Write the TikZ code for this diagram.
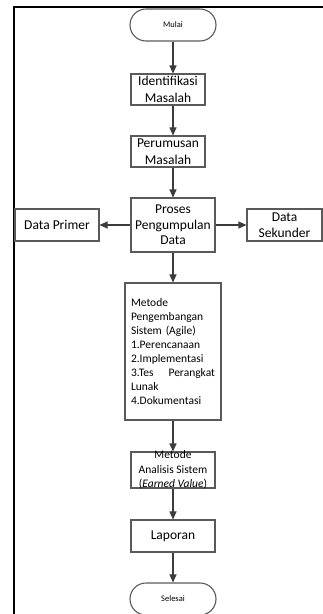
\documentclass[tikz,border=0pt]{standalone}
\usepackage{fontspec}
\setmainfont{Carlito}
\usetikzlibrary{arrows.meta}
\definecolor{boxline}{HTML}{5A5A5A}
\definecolor{arrline}{HTML}{3C3C3C}
\tikzset{
  proc/.style={draw=boxline, line width=1.1pt, inner sep=0pt, align=center, font=\fontsize{13.5}{16.5}\selectfont},
  term/.style={proc, rounded corners=16pt, font=\fontsize{8.5}{10}\selectfont},
  flow/.style={draw=arrline, line width=1.1pt, -{Triangle[length=8pt,width=7pt]}},
  frameline/.style={line width=2pt, black}
}
\begin{document}
\begin{tikzpicture}[x=1pt,y=-1pt]
\useasboundingbox (0,0) rectangle (323,614);
\fill[white] (0,0) rectangle (323,614);
\draw[frameline] (13.5,614) -- (13.5,6.5) -- (323,6.5);

\node[term, minimum width=86pt, minimum height=32pt] (mulai) at (173,25) {Mulai};
\node[proc, minimum width=74pt, minimum height=31pt] (ident) at (168,89.5) {Identifikasi\\Masalah};
\node[proc, minimum width=74pt, minimum height=31pt] (perum) at (168,151.5) {Perumusan\\Masalah};
\node[proc, minimum width=84pt, minimum height=54pt, font=\fontsize{13.5}{15.5}\selectfont] (proses) at (173,225) {Proses\\Pengumpulan\\Data};
\node[proc, minimum width=84pt, minimum height=32pt] (primer) at (57,225) {Data Primer};
\node[proc, minimum width=75pt, minimum height=32pt, font=\fontsize{13.5}{15.5}\selectfont] (sekunder) at (284.5,225) {Data\\Sekunder};
\node[proc, minimum width=96pt, minimum height=137pt, text width=84pt, align=left, font=\fontsize{11.5}{14}\selectfont] (metode) at (173,351.5)
  {Metode\\Pengembangan\\Sistem (Agile)\\1.Perencanaan\\2.Implementasi\\3.Tes\hfill Perangkat\\Lunak\\4.Dokumentasi};
\node[proc, minimum width=84pt, minimum height=36pt] (analisis) at (173,470) {};
\node[font=\fontsize{11.5}{14.5}\selectfont, align=center, inner sep=0pt] (analisistext) at (analisis) {Metode\\Analisis Sistem\\(\textit{Earned Value})};
\node[proc, minimum width=84pt, minimum height=32pt] (laporan) at (173,536) {Laporan};
\node[term, minimum width=86pt, minimum height=32pt] (selesai) at (173,599) {Selesai};

\draw[flow] (mulai) -- (mulai |- ident.north);
\draw[flow] (ident.south -| mulai) -- (perum.north -| mulai);
\draw[flow] (perum.south -| mulai) -- (proses.north -| mulai);
\draw[flow] (proses) -- (primer);
\draw[flow] (proses) -- (sekunder);
\draw[flow] (proses) -- (metode);
\draw[flow] (metode) -- (analisis);
\draw[flow] (analisis) -- (laporan);
\draw[flow] (laporan) -- (selesai);
\end{tikzpicture}
\end{document}
